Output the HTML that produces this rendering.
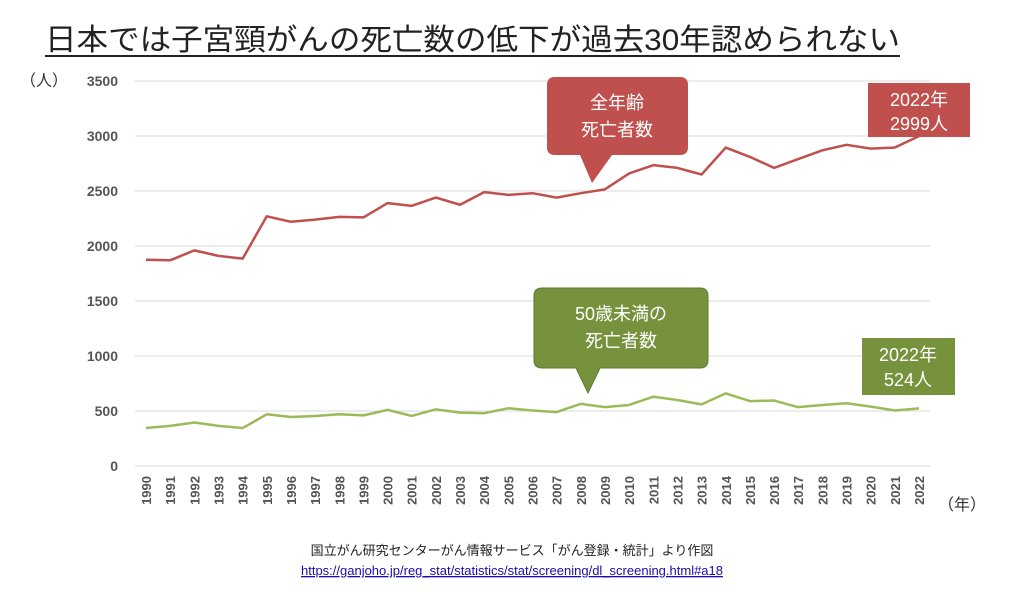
<!DOCTYPE html>
<html><head><meta charset="utf-8"><style>
body{margin:0;background:#fff;font-family:"Liberation Sans","Noto Sans CJK JP",sans-serif;}
</style></head><body>
<svg width="1024" height="588" viewBox="0 0 1024 588" xmlns="http://www.w3.org/2000/svg" font-family="Liberation Sans, Noto Sans CJK JP, sans-serif">
<text x="45" y="50" font-size="30" fill="#222" textLength="855" lengthAdjust="spacingAndGlyphs">日本では子宮頸がんの死亡数の低下が過去30年認められない</text>
<line x1="45" y1="56" x2="900" y2="56" stroke="#222" stroke-width="2"/>
<text x="20" y="86" font-size="16" fill="#333">（人）</text>
<text x="938" y="510" font-size="16" fill="#333">（年）</text>
<g id="grid"></g><g id="yt"></g><g id="xt"></g><g id="lines"></g>
<g>
<path d="M555,77 H680 Q688,77 688,85 V147 Q688,155 680,155 H612 L592,183 L580,155 H555 Q547,155 547,147 V85 Q547,77 555,77Z" fill="#c0504d"/>
<text x="617" y="109" font-size="18" fill="#fff" text-anchor="middle">全年齢</text>
<text x="617" y="136" font-size="18" fill="#fff" text-anchor="middle">死亡者数</text>
</g>
<g>
<rect x="868" y="83" width="102" height="54" fill="#c0504d"/>
<text x="919" y="106" font-size="18" fill="#fff" text-anchor="middle">2022年</text>
<text x="919" y="130" font-size="18" fill="#fff" text-anchor="middle">2999人</text>
</g>
<g>
<path d="M542,288 H700 Q708,288 708,296 V360 Q708,368 700,368 H600 L588,393 L576,368 H542 Q534,368 534,360 V296 Q534,288 542,288Z" fill="#76923c" stroke="#5e7a2c"/>
<text x="621" y="320" font-size="18" fill="#fff" text-anchor="middle">50歳未満の</text>
<text x="621" y="347" font-size="18" fill="#fff" text-anchor="middle">死亡者数</text>
</g>
<g>
<rect x="862" y="338" width="93" height="57" fill="#76923c"/>
<text x="908" y="361" font-size="18" fill="#fff" text-anchor="middle">2022年</text>
<text x="908" y="386" font-size="18" fill="#fff" text-anchor="middle">524人</text>
</g>
<text x="512" y="555" font-size="13" fill="#222" text-anchor="middle">国立がん研究センターがん情報サービス「がん登録・統計」より作図</text>
<text x="512" y="575" font-size="13" fill="#1a0dab" text-decoration="underline" text-anchor="middle">https://ganjoho.jp/reg_stat/statistics/stat/screening/dl_screening.html#a18</text>
</svg>
<script>
const years=[1990,1991,1992,1993,1994,1995,1996,1997,1998,1999,2000,2001,2002,2003,2004,2005,2006,2007,2008,2009,2010,2011,2012,2013,2014,2015,2016,2017,2018,2019,2020,2021,2022];
const allAges=[1875,1870,1960,1910,1885,2270,2220,2240,2265,2260,2390,2365,2440,2375,2490,2465,2480,2440,2480,2515,2660,2735,2710,2650,2895,2810,2710,2790,2870,2920,2885,2895,2999];
const under50=[345,365,395,365,345,470,445,455,470,460,510,455,515,485,480,525,505,490,565,535,555,630,600,560,660,590,595,535,555,570,540,505,524];
const yTicks=[0,500,1000,1500,2000,2500,3000,3500];
const NS="http://www.w3.org/2000/svg";
const y=v=>466-v*(385/3500);
const x=i=>146+i*(773/32);
function mk(t,a,p){const e=document.createElementNS(NS,t);for(const k in a)e.setAttribute(k,a[k]);p.appendChild(e);return e;}
const g=document.getElementById('grid'),yt=document.getElementById('yt'),xt=document.getElementById('xt'),L=document.getElementById('lines');
yTicks.forEach(v=>{
const l=mk('line',{x1:135,x2:930,y1:y(v),y2:y(v),stroke:'#d9d9d9','stroke-width':1},g);


const t=mk('text',{x:118,y:y(v)+5,'font-size':14,'font-weight':'bold',fill:'#555','text-anchor':'end'},yt);t.textContent=v;


});
years.forEach((yr,i)=>{
const t=mk('text',{x:0,y:0,'font-size':13,'font-weight':'bold',fill:'#555','text-anchor':'end',transform:`translate(${x(i)+5},476) rotate(-90)`},xt);t.textContent=yr;


});
function line(d,c,n){const p=mk('polyline',{points:d.map((v,i)=>x(i)+','+y(v)).join(' '),fill:'none',stroke:c,'stroke-width':2.5,'stroke-linejoin':'round'},L);

}
line(allAges,'#c0504d','all-ages-line');
line(under50,'#9bbb59','under-50-line');
</script>
</body></html>
